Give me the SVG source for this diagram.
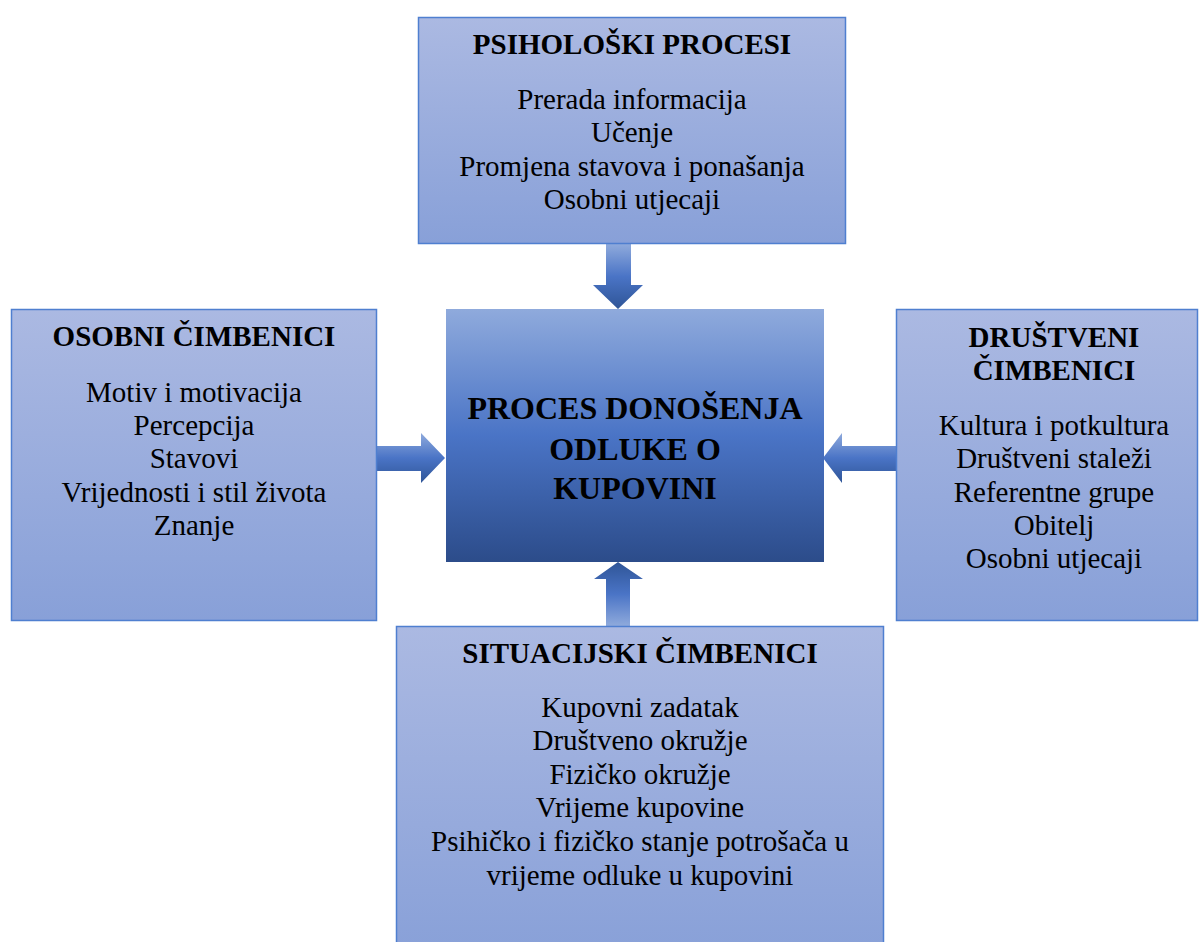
<svg xmlns="http://www.w3.org/2000/svg" width="1199" height="942" viewBox="0 0 1199 942">
<defs>
<linearGradient id="boxg" x1="0" y1="0" x2="0" y2="1">
<stop offset="0" stop-color="#abb9e2"/>
<stop offset="1" stop-color="#88a0d8"/>
</linearGradient>
<linearGradient id="cg" x1="0" y1="0" x2="0" y2="1">
<stop offset="0" stop-color="#8faadc"/>
<stop offset="0.5" stop-color="#4a74c6"/>
<stop offset="1" stop-color="#2c4c8a"/>
</linearGradient>
<linearGradient id="agDown" x1="0" y1="0" x2="0" y2="1">
<stop offset="0" stop-color="#8faadc"/>
<stop offset="0.5" stop-color="#4a74c6"/>
<stop offset="1" stop-color="#2f5597"/>
</linearGradient>
<linearGradient id="agUp" x1="0" y1="1" x2="0" y2="0">
<stop offset="0" stop-color="#8faadc"/>
<stop offset="0.5" stop-color="#4a74c6"/>
<stop offset="1" stop-color="#2f5597"/>
</linearGradient>
</defs>
<style>
.box{fill:url(#boxg);stroke:#4f7fd0;stroke-width:1.5}
.t{font-family:"Liberation Serif","Times New Roman",serif;font-size:29px;fill:#000;text-anchor:middle}
.b{font-weight:bold}
.c{font-family:"Liberation Serif","Times New Roman",serif;font-size:32px;font-weight:bold;fill:#000;text-anchor:middle}
</style>
<rect width="1199" height="942" fill="#fff"/>

<g id="connectors">
<polygon points="606,244 631,244 631,285 643,285 618,309 593,285 606,285" fill="url(#agDown)"/>
<polygon points="618,562 643,579 630,579 630,626 606,626 606,579 594,579" fill="url(#agUp)"/>
<polygon points="377,446 421,446 421,433 445,458 421,483 421,471 377,471" fill="url(#agDown)"/>
<polygon points="823,458 842,433 842,446 896,446 896,471 842,471 842,483" fill="url(#agDown)"/>
</g>

<g id="node-center">
<rect x="446" y="309" width="378" height="253" fill="url(#cg)"/>
<text class="c" x="635" y="419">PROCES DONOŠENJA</text>
<text class="c" x="635" y="460">ODLUKE O</text>
<text class="c" x="635" y="499">KUPOVINI</text>
</g>

<g id="node-psiholoski">
<rect class="box" x="418.5" y="17.5" width="427" height="226"/>
<text class="t b" x="632" y="54">PSIHOLOŠKI PROCESI</text>
<text class="t" x="632" y="109">Prerada informacija</text>
<text class="t" x="632" y="142">Učenje</text>
<text class="t" x="632" y="176">Promjena stavova i ponašanja</text>
<text class="t" x="632" y="209">Osobni utjecaji</text>
</g>

<g id="node-osobni">
<rect class="box" x="11.5" y="309.5" width="365" height="311"/>
<text class="t b" x="194" y="346">OSOBNI ČIMBENICI</text>
<text class="t" x="194" y="402">Motiv i motivacija</text>
<text class="t" x="194" y="435">Percepcija</text>
<text class="t" x="194" y="468">Stavovi</text>
<text class="t" x="194" y="502">Vrijednosti i stil života</text>
<text class="t" x="194" y="535">Znanje</text>
</g>

<g id="node-drustveni">
<rect class="box" x="896.5" y="309.5" width="301" height="311"/>
<text class="t b" x="1054" y="347">DRUŠTVENI</text>
<text class="t b" x="1054" y="380">ČIMBENICI</text>
<text class="t" x="1054" y="435">Kultura i potkultura</text>
<text class="t" x="1054" y="468">Društveni staleži</text>
<text class="t" x="1054" y="502">Referentne grupe</text>
<text class="t" x="1054" y="535">Obitelj</text>
<text class="t" x="1054" y="568">Osobni utjecaji</text>
</g>

<g id="node-situacijski">
<rect class="box" x="396.5" y="626.5" width="487" height="330"/>
<text class="t b" x="640" y="663">SITUACIJSKI ČIMBENICI</text>
<text class="t" x="640" y="717">Kupovni zadatak</text>
<text class="t" x="640" y="750">Društveno okružje</text>
<text class="t" x="640" y="784">Fizičko okružje</text>
<text class="t" x="640" y="817">Vrijeme kupovine</text>
<text class="t" x="640" y="851">Psihičko i fizičko stanje potrošača u</text>
<text class="t" x="640" y="885">vrijeme odluke u kupovini</text>
</g>
</svg>
